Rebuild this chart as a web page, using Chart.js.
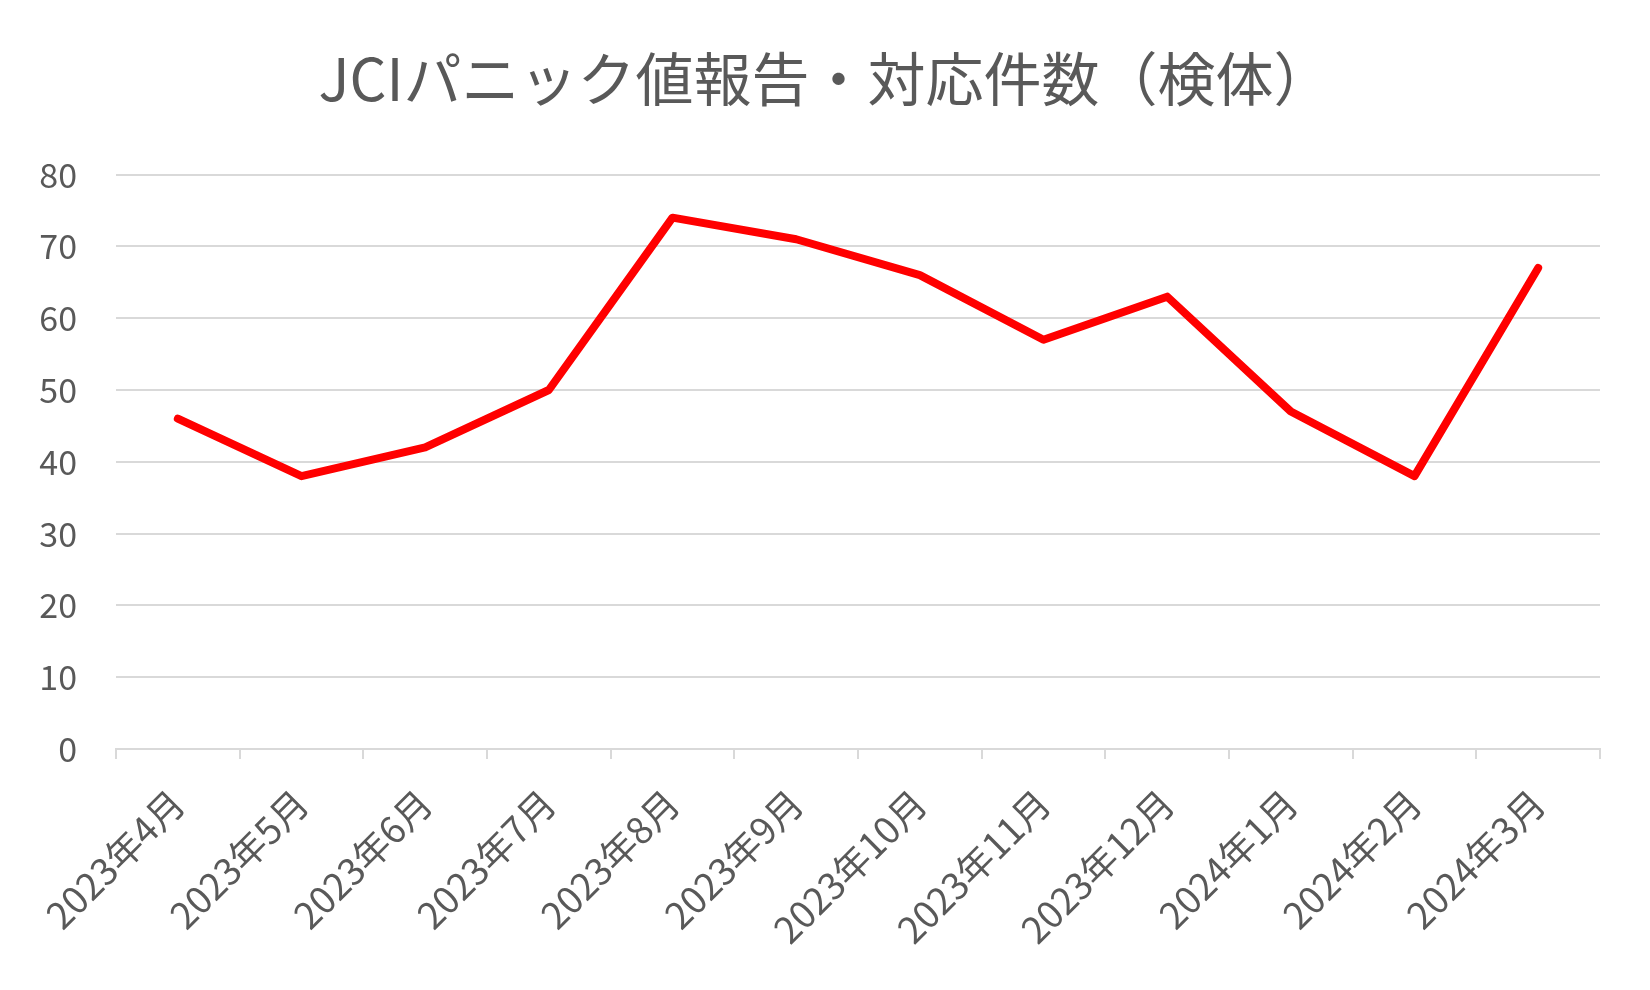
<!DOCTYPE html>
<html>
<head>
<meta charset="utf-8">
<script src="https://cdn.jsdelivr.net/npm/chart.js@4"></script>
<style>
  html, body { margin: 0; padding: 0; background: #fff; }
  #wrap { width: 1650px; height: 990px; }
</style>
</head>
<body>
<div id="wrap"><canvas id="myChart" width="1650" height="990"></canvas></div>
<script>
var title = 'JCIパニック値報告・対応件数（検体）';
var months = ['2023年4月', '2023年5月', '2023年6月', '2023年7月', '2023年8月', '2023年9月',
    '2023年10月', '2023年11月', '2023年12月', '2024年1月', '2024年2月', '2024年3月'];
var counts = [46, 38, 42, 50, 74, 71, 66, 57, 63, 47, 38, 67];

var fontFamily = '"Noto Sans CJK JP", "Noto Sans", sans-serif';
var textColor = '#595959';
var gridColor = '#d9d9d9';

var ctx = document.getElementById('myChart').getContext('2d');
var chart = new Chart(ctx, {
    type: 'line',
    data: {
        labels: months,
        datasets: [{
            label: title,
            data: counts,
            borderColor: '#ff0000',
            backgroundColor: '#ff0000',
            borderWidth: 8,
            borderJoinStyle: 'round',
            borderCapStyle: 'round',
            pointRadius: 0,
            tension: 0
        }]
    },
    options: {
        responsive: false,
        animation: false,
        layout: {
            padding: 0
        },
        plugins: {
            legend: { display: false },
            tooltip: { enabled: false },
            title: {
                display: true,
                text: title,
                color: textColor,
                font: { family: fontFamily, size: 58, weight: 'normal' },
                padding: { top: 44, bottom: 61 }
            }
        },
        scales: {
            x: {
                offset: true,
                grid: {
                    offset: true,
                    drawOnChartArea: false,
                    drawTicks: true,
                    tickLength: 10,
                    color: gridColor,
                    lineWidth: 2
                },
                border: { color: gridColor, width: 2 },
                ticks: {
                    autoSkip: false,
                    minRotation: 45,
                    maxRotation: 45,
                    padding: 22,
                    color: textColor,
                    font: { family: fontFamily, size: 37 }
                },
                afterFit: function (scale) { scale.height = 241; }
            },
            y: {
                min: 0,
                max: 80,
                grid: {
                    color: gridColor,
                    lineWidth: 2,
                    drawTicks: false
                },
                border: { display: false },
                ticks: {
                    stepSize: 10,
                    padding: 39,
                    color: textColor,
                    font: { family: fontFamily, size: 34 }
                },
                afterFit: function (scale) { scale.width = 116; }
            },
            // empty right-hand axis, only keeps the 50px margin on the right
            yRight: {
                position: 'right',
                display: true,
                grid: { display: false },
                border: { display: false },
                ticks: { display: false },
                afterFit: function (scale) { scale.width = 50; }
            }
        }
    }
});
</script>
</body>
</html>
